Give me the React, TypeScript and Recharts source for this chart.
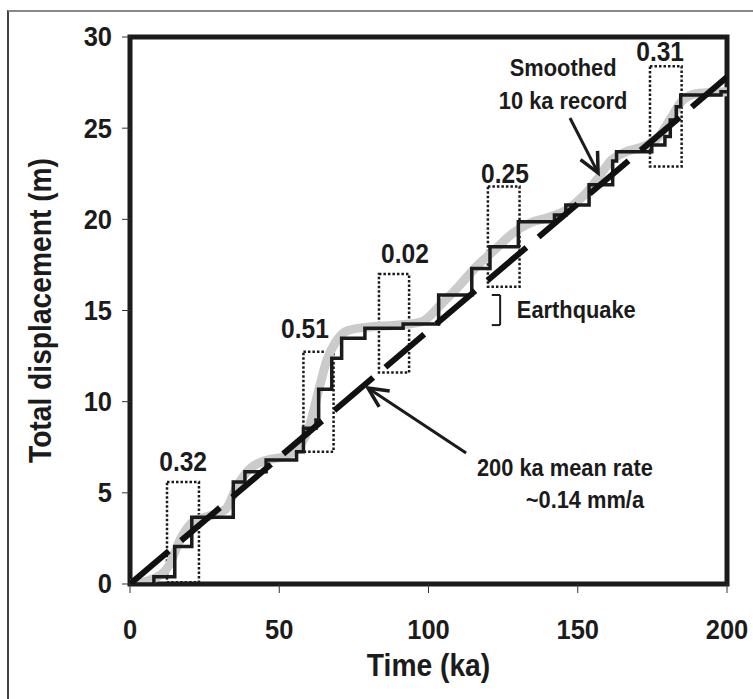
import React from 'react';
import {
  ComposedChart,
  Line,
  XAxis,
  YAxis,
  ReferenceArea,
  ReferenceLine,
  ReferenceDot,
} from 'recharts';

// Time (ka) at which each step begins, and the total displacement (m) held until the next step
const stepTimes = [0, 8, 15, 20.7, 34.6, 38.5, 45.6, 55.8, 58.1, 62.3, 63.2, 67.6, 70.9, 78.7, 91.5, 103.4, 114.5, 120.6, 130.1, 142.2, 146, 153.8, 161.7, 163, 174.8, 179.2, 181, 183, 184.5, 198, 200];
const stepValues = [0, 0.4, 2.05, 3.66, 5.6, 6.16, 6.8, 7.26, 8.54, 9.0, 10.68, 12.38, 13.48, 14.03, 14.26, 15.85, 17.3, 18.5, 19.87, 20.24, 20.79, 21.89, 23.2, 23.71, 24.08, 24.54, 25.45, 26.18, 26.82, 27.0, 27.0];

// Smoothed 10 ka record
const smoothTimes = [0, 8, 13, 17, 21, 26, 32, 36, 40, 46, 52, 57, 60, 63, 66, 69, 73, 80, 90, 98, 104, 110, 116, 122, 128, 134, 140, 146, 152, 157, 161, 166, 172, 177, 181, 185, 190, 200];
const smoothValues = [0, 0.3, 1.0, 2.5, 3.4, 3.7, 4.1, 5.4, 6.3, 6.8, 7.0, 7.6, 8.6, 10.5, 12.3, 13.3, 13.9, 14.1, 14.2, 14.4, 15.3, 16.3, 17.4, 18.3, 19.2, 19.8, 20.1, 20.5, 21.3, 22.3, 23.2, 23.7, 24.0, 24.5, 25.5, 26.5, 26.9, 27.0];

// 200 ka mean rate line
const meanTimes = [0, 200];
const meanValues = [0, 27.8];

// dotted boxes: [t0, t1, y0, y1] and their labels
const boxLabels = ['0.32', '0.51', '0.02', '0.25', '0.31'];
const boxExtents = [
  [12.4, 23.1, 0.1, 5.6],
  [58.1, 68.2, 7.26, 12.74],
  [83.4, 93.5, 11.6, 17.0],
  [119.9, 130.5, 16.3, 21.8],
  [174.2, 184.8, 22.9, 28.4],
];
const boxLabelAt = [
  [17.8, 6.7],
  [58.6, 14.0],
  [92.1, 18.1],
  [125.6, 22.5],
  [177.6, 29.2],
];

const xTicks = [0, 50, 100, 150, 200];
const yTicks = [0, 5, 10, 15, 20, 25, 30];

const stepData = stepTimes.map((t, i) => ({ t, v: stepValues[i] }));
const smoothData = smoothTimes.map((t, i) => ({ t, v: smoothValues[i] }));
const meanData = meanTimes.map((t, i) => ({ t, v: meanValues[i] }));

const FONT = '"Liberation Sans", Arial, sans-serif';
const INK = '#1b1b1b';
const SQUEEZE = 0.91; // the original type is a little condensed

// bold, slightly condensed text centred (or anchored) at x,y
function CText({ x, y, size, anchor = 'middle', rotate = 0, children }: any) {
  return (
    <g transform={`translate(${x} ${y}) rotate(${rotate}) scale(${SQUEEZE} 1)`}>
      <text
        x={0}
        y={0}
        textAnchor={anchor}
        dominantBaseline="central"
        fontFamily={FONT}
        fontWeight={700}
        fontSize={size}
        fill={INK}
      >
        {children}
      </text>
    </g>
  );
}

const XTick = (p: any) => (
  <CText x={p.x} y={p.y} size={28}>
    {p.payload.value}
  </CText>
);

const YTick = (p: any) => (
  <CText x={p.x} y={p.y} size={28} anchor="end">
    {p.payload.value}
  </CText>
);

// arrow with open head drawn from (x1,y1) to (x2,y2)
const arrowShape = (p: any) => {
  const { x1, y1, x2, y2 } = p;
  const ang = Math.atan2(y2 - y1, x2 - x1);
  const len = 22;
  const spread = 0.45;
  const ax = x2 - len * Math.cos(ang - spread);
  const ay = y2 - len * Math.sin(ang - spread);
  const bx = x2 - len * Math.cos(ang + spread);
  const by = y2 - len * Math.sin(ang + spread);
  return (
    <g>
      <line x1={x1} y1={y1} x2={x2} y2={y2} stroke={INK} strokeWidth={3} />
      <polyline
        points={`${ax},${ay} ${x2},${y2} ${bx},${by}`}
        fill="none"
        stroke={INK}
        strokeWidth={3.5}
        strokeLinejoin="miter"
      />
    </g>
  );
};

const textDot = (label: string, size: number, anchor: string = 'middle') => (p: any) => (
  <CText x={p.cx} y={p.cy} size={size} anchor={anchor}>
    {label}
  </CText>
);

const bracketLine = (p: any) => (
  <line x1={p.x1} y1={p.y1} x2={p.x2} y2={p.y2} stroke={INK} strokeWidth={2} />
);

export default function App() {
  return (
    <div
      style={{
        position: 'absolute',
        left: 0,
        top: 0,
        width: 753,
        height: 699,
        background: '#fff',
        overflow: 'hidden',
      }}
    >
      <div
        style={{
          position: 'absolute',
          left: 7,
          top: 10,
          width: 800,
          height: 800,
          borderLeft: '2px solid #444',
          borderTop: '2px solid #888',
        }}
      />
      <div style={{ position: 'absolute', left: 0, top: 0 }}>
        <ComposedChart
          width={753}
          height={699}
          margin={{ top: 37, right: 26, bottom: 35, left: 70 }}
        >
          <XAxis
            dataKey="t"
            type="number"
            domain={[0, 200]}
            ticks={xTicks}
            allowDataOverflow
            axisLine={false}
            tickSize={9}
            tickMargin={37}
            tickLine={{ stroke: '#333', strokeWidth: 1 }}
            tick={XTick}
            height={80}
            label={{
              content: (p: any) => (
                <CText
                  x={p.viewBox.x + p.viewBox.width / 2}
                  y={p.viewBox.y + 81}
                  size={31}
                >
                  Time (ka)
                </CText>
              ),
            }}
          />
          <YAxis
            dataKey="v"
            type="number"
            domain={[0, 30]}
            ticks={yTicks}
            allowDataOverflow
            axisLine={false}
            tickSize={8}
            tickMargin={10}
            tickLine={{ stroke: '#333', strokeWidth: 1 }}
            tick={YTick}
            width={60}
            label={{
              content: (p: any) => (
                <CText
                  x={p.viewBox.x - 30}
                  y={p.viewBox.y + p.viewBox.height / 2}
                  size={31}
                  rotate={-90}
                >
                  Total displacement (m)
                </CText>
              ),
            }}
          />

          <Line
            data={smoothData}
            dataKey="v"
            type="monotone"
            stroke="#cbcbcb"
            strokeWidth={9}
            dot={false}
            isAnimationActive={false}
          />
          <Line
            data={stepData}
            dataKey="v"
            type="stepAfter"
            stroke={INK}
            strokeWidth={3.5}
            dot={false}
            isAnimationActive={false}
          />
          <Line
            data={meanData}
            dataKey="v"
            type="linear"
            stroke="#111"
            strokeWidth={6}
            strokeDasharray="51 16"
            dot={false}
            isAnimationActive={false}
          />

          {boxExtents.map((b, i) => (
            <ReferenceArea
              key={`box-${i}`}
              x1={b[0]}
              x2={b[1]}
              y1={b[2]}
              y2={b[3]}
              fill="none"
              fillOpacity={0}
              stroke={INK}
              strokeWidth={2.5}
              strokeDasharray="2.5 2"
              ifOverflow="visible"
            />
          ))}
          {boxLabels.map((l, i) => (
            <ReferenceDot
              key={`bl-${i}`}
              x={boxLabelAt[i][0]}
              y={boxLabelAt[i][1]}
              r={0}
              ifOverflow="visible"
              shape={textDot(l, 27)}
            />
          ))}

          {/* earthquake bracket */}
          <ReferenceLine segment={[{ x: 121.2, y: 15.85 }, { x: 124.0, y: 15.85 }]} shape={bracketLine} ifOverflow="visible" />
          <ReferenceLine segment={[{ x: 124.0, y: 15.85 }, { x: 124.0, y: 14.2 }]} shape={bracketLine} ifOverflow="visible" />
          <ReferenceLine segment={[{ x: 121.2, y: 14.2 }, { x: 124.0, y: 14.2 }]} shape={bracketLine} ifOverflow="visible" />
          <ReferenceDot x={129.6} y={15.03} r={0} ifOverflow="visible" shape={textDot('Earthquake', 24, 'start')} />

          {/* annotations */}
          <ReferenceDot x={145.1} y={28.3} r={0} ifOverflow="visible" shape={textDot('Smoothed', 24)} />
          <ReferenceDot x={145.1} y={26.5} r={0} ifOverflow="visible" shape={textDot('10 ka record', 24)} />
          <ReferenceLine segment={[{ x: 147.4, y: 25.56 }, { x: 156.8, y: 22.55 }]} shape={arrowShape} ifOverflow="visible" />

          <ReferenceDot x={145.7} y={6.36} r={0} ifOverflow="visible" shape={textDot('200 ka mean rate', 24)} />
          <ReferenceDot x={152.4} y={4.6} r={0} ifOverflow="visible" shape={textDot('~0.14 mm/a', 24)} />
          <ReferenceLine segment={[{ x: 112.6, y: 7.19 }, { x: 79.7, y: 10.75 }]} shape={arrowShape} ifOverflow="visible" />

          {/* plot frame */}
          <ReferenceArea
            x1={0}
            x2={200}
            y1={0}
            y2={30}
            fill="none"
            fillOpacity={0}
            stroke={INK}
            strokeWidth={5}
            ifOverflow="visible"
          />
        </ComposedChart>
      </div>
    </div>
  );
}
